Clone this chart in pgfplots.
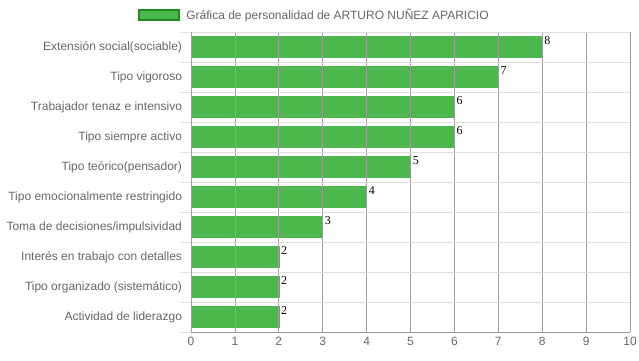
\documentclass[border=0pt]{standalone}
\usepackage{pgfplots}
\pgfplotsset{compat=1.18}
\usepackage{fontspec}
\setmainfont{Liberation Sans}
\newfontfamily\serifnum{Liberation Serif}
\definecolor{barg}{RGB}{76,183,76}
\definecolor{bard}{RGB}{30,140,30}
\definecolor{txtg}{RGB}{102,102,102}
\begin{document}
\begin{tikzpicture}[x=1pt,y=1pt]
\useasboundingbox (0,0) rectangle (639,360);
\begin{axis}[
  at={(191pt,28pt)}, anchor=south west,
  scale only axis, width=439pt, height=300pt,
  xmin=0, xmax=10, ymin=-0.5, ymax=9.5,
  y dir=reverse,
  xtick={0,...,10},
  ytick={0,...,9},
  yticklabels={Extensión social(sociable),Tipo vigoroso,Trabajador tenaz e intensivo,Tipo siempre activo,Tipo teórico(pensador),Tipo emocionalmente restringido,Toma de decisiones/impulsividad,Interés en trabajo con detalles,Tipo organizado (sistemático),Actividad de liderazgo},
  minor ytick={-0.5,0.5,...,9.5},
  ymajorgrids=false, yminorgrids=true, xmajorgrids=true,
  minor grid style={draw=black!13, line width=0.7pt},
  major grid style={draw=black!38, line width=0.7pt},
  axis x line=bottom, axis y line=left,
  axis line style={draw=black!38, line width=0.7pt, -},
  major tick length=0pt, minor tick length=11pt,
  tick align=outside,
  minor tick style={draw=black!13, line width=0.7pt},
  ticklabel style={font=\fontsize{12}{14}\selectfont, text=txtg},
  yticklabel style={xshift=-5.5pt},
  xticklabel style={yshift=-2pt},
  /pgf/number format/assume math mode=true,
  xbar, bar width=21pt,
  nodes near coords,
  every node near coord/.append style={font=\serifnum\fontsize{12}{14}\selectfont, text=black, anchor=west, inner sep=1pt, xshift=1pt, yshift=6pt},
  axis on top,
  legend style={draw=none, at={(0.281,1.057)}, anchor=center, font=\fontsize{12}{14}\selectfont, text=txtg, inner sep=0pt},
  legend image code/.code={\draw[fill=barg, draw=bard, line width=2.2pt] (-4pt,-5.2pt) rectangle (36pt,5.2pt);},
]
\addplot[fill=barg, draw=barg, line width=0.5pt] coordinates {
(8,0) (7,1) (6,2) (6,3) (5,4) (4,5) (3,6) (2,7) (2,8) (2,9)};
\addlegendentry{\hspace{4pt}Gráfica de personalidad de ARTURO NUÑEZ APARICIO}
\end{axis}
\end{tikzpicture}
\end{document}
